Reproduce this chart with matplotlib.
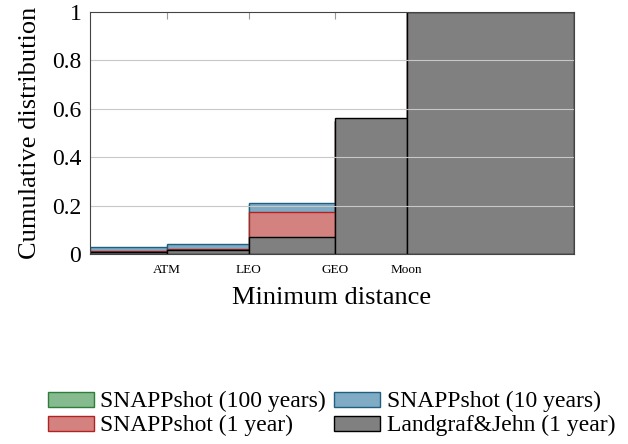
import matplotlib.pyplot as plt
import numpy as np

plt.rcParams['font.family'] = ['Liberation Serif', 'DejaVu Serif']

# bin edges of minimum distance (km), log axis
edges = [10, 130, 2000, 35786, 384400, 1.0e8]
tick_pos = [130, 2000, 35786, 384400]
tick_labels = ['ATM', 'LEO', 'GEO', 'Moon']

# cumulative distribution per bin
snap_100y = [0.026, 0.038, 0.205, 0.55, 1.0]
snap_10y = [0.028, 0.040, 0.210, 0.55, 1.0]
snap_1y = [0.012, 0.020, 0.175, 0.55, 1.0]
landgraf = [0.010, 0.018, 0.072, 0.56, 1.0]

left = np.array(edges[:-1])
width = np.diff(edges)

fig = plt.figure(figsize=(6.28, 4.44), dpi=100)
ax = fig.add_axes([0.1428, 0.428, 0.771, 0.545])

h1 = ax.bar(left, snap_100y, width=width, align='edge', color='#85bb8f',
            edgecolor='#2e7d3a', linewidth=1, label='SNAPPshot (100 years)', zorder=1)
h2 = ax.bar(left, snap_10y, width=width, align='edge', color='#7fabc4',
            edgecolor='#1f6080', linewidth=1, label='SNAPPshot (10 years)', zorder=2)
h3 = ax.bar(left, snap_1y, width=width, align='edge', color='#d4827f',
            edgecolor='#b22222', linewidth=1, label='SNAPPshot (1 year)', zorder=3)
h4 = ax.bar(left, landgraf, width=width, align='edge', color='#808080',
            edgecolor='black', linewidth=1, label='Landgraf&Jehn (1 year)', zorder=4)

ax.set_xscale('log')
ax.set_xlim(edges[0], edges[-1])
ax.set_ylim(0, 1)
ax.set_xticks(tick_pos)
ax.set_xticklabels(tick_labels, fontsize=9.5)
ax.xaxis.set_minor_locator(plt.NullLocator())
ax.tick_params(axis='x', direction='in', top=True, length=5, color='#999999', pad=7)
ax.set_yticks([0, 0.2, 0.4, 0.6, 0.8, 1])
ax.set_yticklabels(['0', '0.2', '0.4', '0.6', '0.8', '1'], fontsize=17)
ax.tick_params(axis='y', length=0, pad=6)
for y in [0.2, 0.4, 0.6, 0.8]:
    ax.axhline(y, color='#c8c8c8', linewidth=0.8, zorder=5)
for s in ax.spines.values():
    s.set_color('#444444')
    s.set_zorder(6)

ax.set_xlabel('Minimum distance', fontsize=19, labelpad=8)
ax.set_ylabel('Cumulative distribution', fontsize=19, labelpad=8)

fig.legend(handles=[h1, h3, h2, h4], ncol=2, loc='center', bbox_to_anchor=(0.528, 0.068),
           frameon=False, fontsize=17, handlelength=1.95, handleheight=0.6,
           handletextpad=0.28, columnspacing=0.34, labelspacing=0.12)

fig.savefig('out.png', dpi=100)
